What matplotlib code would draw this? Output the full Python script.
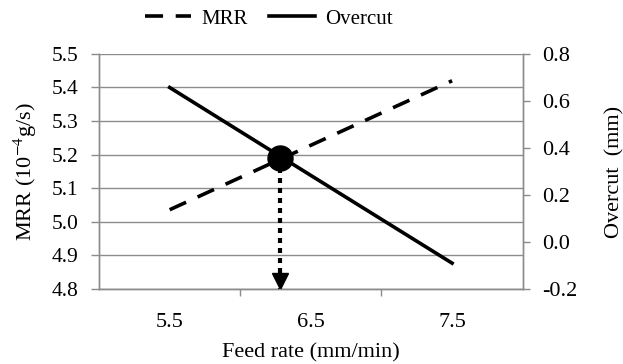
import numpy as np
import matplotlib.pyplot as plt
from matplotlib.transforms import ScaledTranslation

# data
feed_rate = ['5.5', '6.5', '7.5']
mrr = [5.036, 5.228, 5.42]
overcut = [0.657, 0.283, -0.09]

# optimum point marked on the chart (feed rate, MRR)
opt_feed = 6.28
opt_mrr = 5.19

plt.rcParams['font.family'] = ['Liberation Serif', 'DejaVu Serif']
plt.rcParams['mathtext.fontset'] = 'stix'

grid_col = '#8c8c8c'

fig = plt.figure(figsize=(6.23, 3.64), dpi=100)
ax = fig.add_axes([0.159, 0.206, 0.680, 0.646])
ax2 = ax.twinx()

x = np.arange(len(feed_rate))

l1, = ax.plot(x, mrr, color='black', lw=2.6, ls=(0, (5, 3.5)), label='MRR')
l2, = ax2.plot(x, overcut, color='black', lw=2.6, label='Overcut')

ax.set_xlim(-0.5, 2.5)
ax.set_ylim(4.8, 5.5)
yt = np.arange(4.8, 5.51, 0.1)
ax.set_yticks(yt)
ax.set_yticklabels(['%.1f' % v for v in yt])
ax2.set_ylim(-0.2, 0.8)
yt2 = np.arange(-0.2, 0.81, 0.2)
ax2.set_yticks(yt2)
ax2.set_yticklabels(['%.1f' % v if abs(v) > 1e-9 else '0.0' for v in yt2])

# category style axis: labels at centers, ticks at the boundaries
ax.set_xticks(x)
ax.set_xticklabels(feed_rate)
ax.set_xticks([0.5, 1.5], minor=True)
ax.tick_params(axis='x', which='major', length=0, pad=17, labelsize=16)
ax.tick_params(axis='x', which='minor', length=5, width=1, color=grid_col, direction='out')
ax.tick_params(axis='y', length=6, width=1, color=grid_col, labelsize=15.5, pad=9)
ax2.tick_params(axis='y', length=5, width=1, color=grid_col, labelsize=16, pad=9)

ax.grid(axis='y', color=grid_col, lw=1)
ax.set_axisbelow(True)
for a in (ax, ax2):
    a.spines['top'].set_visible(False)
    for s in ('left', 'right', 'bottom'):
        a.spines[s].set_color(grid_col)
        a.spines[s].set_linewidth(1)

ax.set_xlabel('Feed rate (mm/min)', fontsize=16, labelpad=8)
ax.set_ylabel('MRR (10$^{-4}$g/s)', fontsize=16, labelpad=9)
ax2.set_ylabel('Overcut  (mm)', fontsize=16, labelpad=20)

# optimum marker and dotted arrow down to the axis
opt_x = x[0] + (opt_feed - float(feed_rate[0])) / (float(feed_rate[1]) - float(feed_rate[0]))
ax2.set_zorder(ax.get_zorder() + 1)
ax2.patch.set_visible(False)
ax.plot([opt_x, opt_x], [opt_mrr, 4.8], color='black', lw=3, ls=(0, (1.2, 1.2)),
        dash_capstyle='butt', zorder=3)
head = ax.transData + ScaledTranslation(0, 6 / 72, fig.dpi_scale_trans)
ax.plot([opt_x], [4.8], marker='v', color='black', ms=12, transform=head, zorder=4, clip_on=False)
ax2.plot([opt_x], [(opt_mrr - 4.8) / 0.7 - 0.2], 'o', color='black', ms=18, zorder=5)

fig.legend(handles=[l1, l2], loc='center', bbox_to_anchor=(0.432, 0.948),
           ncol=2, frameon=False, fontsize=15, handlelength=2.2, handletextpad=0.5,
           columnspacing=1.0)

fig.savefig('out.png', dpi=100)
